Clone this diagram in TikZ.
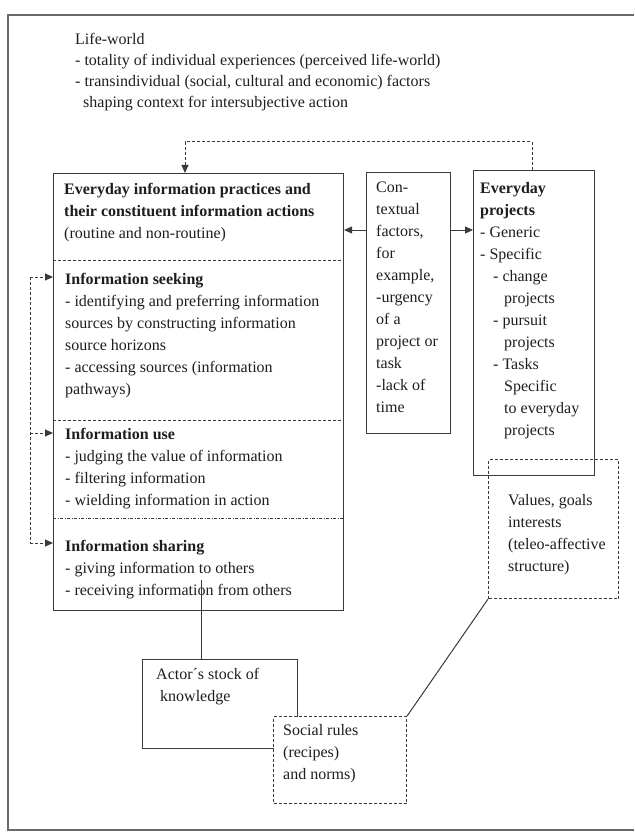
\documentclass[tikz,border=0pt]{standalone}
\usepackage{fontspec}
\setmainfont{Liberation Serif}
\usetikzlibrary{arrows.meta}
\definecolor{linec}{HTML}{3A3A3A}
\definecolor{textc}{HTML}{1E1E1E}
\definecolor{framec}{HTML}{6A6A6A}
\begin{document}
\begin{tikzpicture}[x=1pt,y=-1pt,
  box/.style={draw=linec, line width=1.1pt, inner sep=0pt, anchor=north west},
  dbox/.style={box, dash pattern=on 3pt off 2pt},
  txt/.style={anchor=north west, yshift=15.4pt, align=left, inner sep=0pt,
    font=\fontsize{16}{22}\selectfont, text=textc, execute at begin node=\strut},
  tip/.style={-{Triangle[length=8pt,width=7pt]}},
  dsh/.style={draw=linec, line width=1pt, dash pattern=on 3pt off 2pt},
  conn/.style={draw=linec, line width=1pt}]
\useasboundingbox (0,0) rectangle (634,834);
\fill[white] (0,0) rectangle (634,834);
\draw[framec, line width=1.6pt] (634,15) -- (8,15) -- (8,830) -- (634,830);

% boxes
\node[box, minimum width=290pt, minimum height=437pt] (main) at (53,173) {};
\node[box, minimum width=84pt, minimum height=261pt] (ctx) at (366,172) {};
\node[box, minimum width=121pt, minimum height=305pt] (proj) at (473,170) {};
\node[dbox, minimum width=130pt, minimum height=139pt] (values) at (488,459) {};
\node[box, minimum width=155pt, minimum height=89pt] (actor) at (142,659) {};

% separators in main box
\coordinate (s1) at (0,260);
\coordinate (s2) at (0,420);
\coordinate (s3) at (0,518);
\draw[dsh] (main.west |- s1) -- (main.east |- s1);
\draw[dsh] (main.west |- s2) -- (main.east |- s2);
\draw[draw=linec, line width=1pt, dash pattern=on 3pt off 1.5pt on 1pt off 1.5pt] (main.west |- s3) -- (main.east |- s3);

% texts
\node[txt, yshift=-0.7pt, font=\fontsize{16}{21}\selectfont] (life) at (75,48) {Life-world\\
- totality of individual experiences (perceived life-world)\\
- transindividual (social, cultural and economic) factors\\
\hspace*{8pt}shaping context for intersubjective action};

\node[txt] (title) at (64,198) {\textbf{Everyday information practices and}\\
\textbf{their constituent information actions}\\
(routine and non-routine)};

\node[txt] (seek) at (65,288) {\textbf{Information seeking}\\
- identifying and preferring information\\
sources by constructing information\\
source horizons\\
- accessing sources (information\\
pathways)};

\node[txt] (use) at (65,443) {\textbf{Information use}\\
- judging the value of information\\
- filtering information\\
- wielding information in action};

\node[txt] (share) at (65,555) {\textbf{Information sharing}\\
- giving information to others\\
- receiving information from others};

\node[txt] (ctxt) at (376,197) {Con-\\textual\\factors,\\for\\example,\\-urgency\\of a\\project or\\task\\-lack of\\time};

\node[txt] (projt) at (480,198) {\textbf{Everyday}\\
\textbf{projects}\\
- Generic\\
- Specific\\
\hspace*{13pt}- change\\
\hspace*{24pt}projects\\
\hspace*{13pt}- pursuit\\
\hspace*{24pt}projects\\
\hspace*{13pt}- Tasks\\
\hspace*{24pt}Specific\\
\hspace*{24pt}to everyday\\
\hspace*{24pt}projects};

\node[txt] (valt) at (508,510) {Values, goals\\interests\\(teleo-affective\\structure)};

\node[txt] (actt) at (156,683) {Actor´s stock of\\\hspace*{4pt}knowledge};

% connectors
\coordinate (ay) at (0,230);
\draw[conn, tip] (ctx.west |- ay) -- (main.east |- ay);
\draw[conn, tip] (ctx.east |- ay) -- (proj.west |- ay);

\coordinate (tx1) at (185,142);
\coordinate (tx2) at (532,142);
\draw[dsh, tip] (proj.north -| tx2) -- (tx2) -- (tx1) -- (main.north -| tx1);

\coordinate (l1) at (30,277);
\coordinate (l2) at (30,433);
\coordinate (l3) at (30,543);
\draw[dsh] (l1) -- (l3);
\foreach \c in {l1,l2,l3} \draw[dsh, tip] (\c) -- (main.west |- \c);

\coordinate (kk) at (201,580);
\draw[conn] (kk) -- (kk |- actor.north);

% social rules box on top of actor box
\node[dbox, fill=white, minimum width=133pt, minimum height=87pt] (social) at (273,716) {};
\node[txt] (soct) at (283,740) {Social rules\\(recipes)\\and norms)};
\draw[conn] (social.north east) -- (values.south west);
\end{tikzpicture}
\end{document}
